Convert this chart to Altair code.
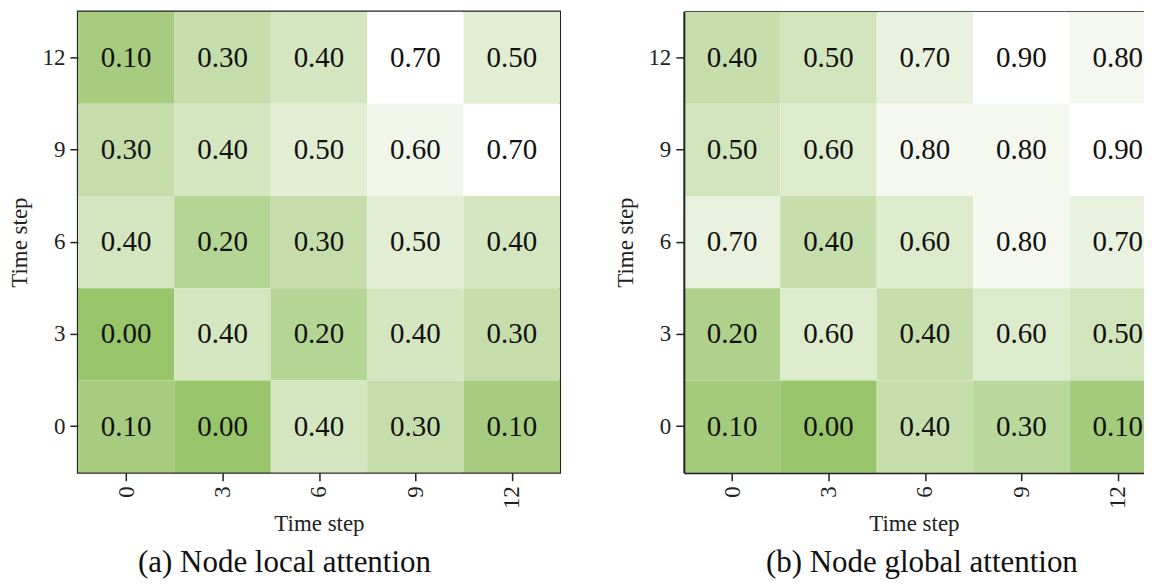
import altair as alt
import pandas as pd

steps = [0, 3, 6, 9, 12]
rows_desc = [12, 9, 6, 3, 0]

# values listed row by row, top row (time step 12) first, columns 0..12
local_vals = [
    [0.10, 0.30, 0.40, 0.70, 0.50],
    [0.30, 0.40, 0.50, 0.60, 0.70],
    [0.40, 0.20, 0.30, 0.50, 0.40],
    [0.00, 0.40, 0.20, 0.40, 0.30],
    [0.10, 0.00, 0.40, 0.30, 0.10],
]
global_vals = [
    [0.40, 0.50, 0.70, 0.90, 0.80],
    [0.50, 0.60, 0.80, 0.80, 0.90],
    [0.70, 0.40, 0.60, 0.80, 0.70],
    [0.20, 0.60, 0.40, 0.60, 0.50],
    [0.10, 0.00, 0.40, 0.30, 0.10],
]

titles = ["(a) Node local attention", "(b) Node global attention"]
FONT = "Liberation Serif"
DARK = "#98c46a"
INK = "#222222"
HALF = 1.5  # half of the 3-step cell width


def to_df(vals):
    recs = []
    for yi, yv in enumerate(rows_desc):
        for xi, xv in enumerate(steps):
            recs.append({"x": xv, "x0": xv - HALF, "x1": xv + HALF,
                         "y": yv, "v": vals[yi][xi]})
    return pd.DataFrame(recs)


def panel(vals, title, width, xmax, dx, open_right):
    df = to_df(vals)
    vmax = max(max(r) for r in vals)
    base = alt.Chart(df)
    xscale = alt.Scale(domain=[-HALF, xmax], nice=False, zero=False)
    xaxis = alt.Axis(values=steps, labelAngle=270, labelAlign="right",
                     labelBaseline="middle", labelPadding=5, titlePadding=4,
                     grid=False, domain=open_right, domainColor=INK, domainWidth=2)
    yenc = alt.Y("y:O", sort=rows_desc, title="Time step",
                 scale=alt.Scale(paddingInner=0, paddingOuter=0),
                 axis=alt.Axis(labelAngle=0, labelPadding=5, titlePadding=10,
                               domain=open_right, domainColor=INK, domainWidth=2))
    rect = base.mark_rect(clip=True).encode(
        x=alt.X("x0:Q", title="Time step", scale=xscale, axis=xaxis),
        x2="x1:Q",
        y=yenc,
        color=alt.Color("v:Q", legend=None,
                        scale=alt.Scale(domain=[0, vmax], range=[DARK, "#ffffff"],
                                        interpolate="rgb")),
    )
    text = base.mark_text(font=FONT, fontSize=29, color="#111", clip=True).encode(
        x=alt.X("x:Q", scale=xscale,
                axis=alt.Axis(orient="top", labels=False, ticks=False, title=None,
                              grid=False, domain=open_right, domainColor=INK,
                              domainWidth=2)),
        y=alt.Y("y:O", sort=rows_desc),
        text=alt.Text("v:Q", format=".2f"),
    )
    layer = alt.layer(rect, text).resolve_axis(x="independent")
    props = dict(
        width=width, height=462,
        title=alt.TitleParams(title, orient="bottom",
                              frame="group" if open_right else "bounds", dx=dx,
                              font=FONT, fontSize=31, fontWeight="normal",
                              color="#111", offset=12),
    )
    if open_right:
        props["view"] = alt.ViewBackground(stroke=None)
    else:
        props["view"] = alt.ViewBackground(stroke=INK, strokeWidth=2)
    return layer.properties(**props)


left = panel(local_vals, titles[0], 483, 12 + HALF, 0, False)
# right panel is cut by the picture's right edge
right = panel(global_vals, titles[1], 461, 12 + HALF - 22 * (3 / 96.6), 8, True)

chart = alt.hconcat(left, right, spacing=54).resolve_scale(color="independent").properties(
    padding={"left": 0, "top": 2, "right": 0, "bottom": 0}
).configure_axis(
    tickColor=INK, tickWidth=1.5, tickSize=8,
    labelFont=FONT, labelFontSize=23, labelColor=INK,
    titleFont=FONT, titleFontSize=23, titleFontWeight="normal", titleColor=INK,
).configure_title(anchor="middle")

chart.save("out.html", embed_options={"renderer": "svg", "actions": False})
